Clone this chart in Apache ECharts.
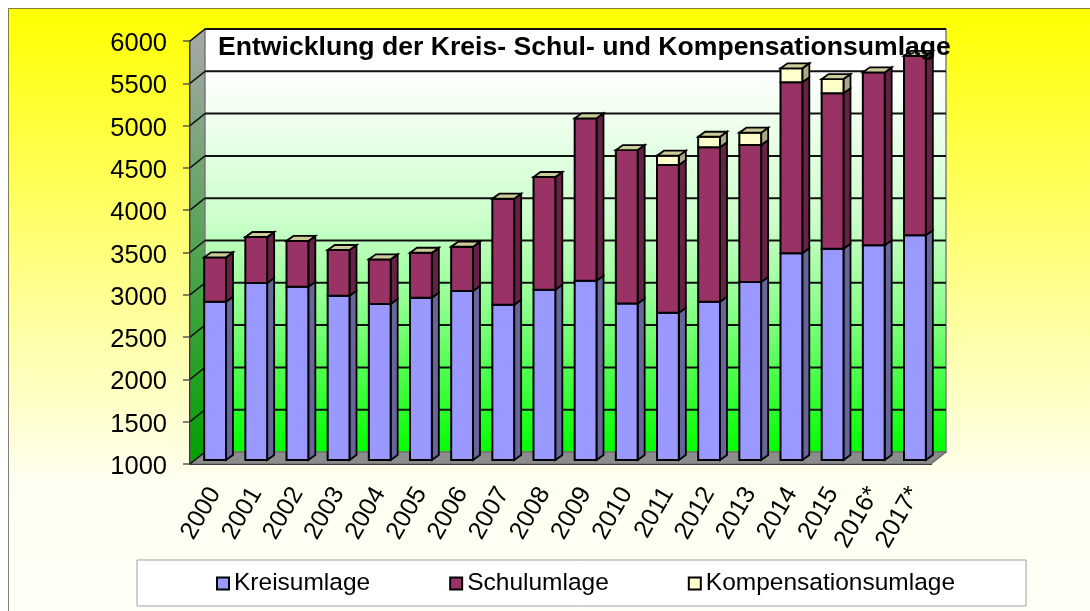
<!DOCTYPE html>
<html>
<head>
<meta charset="utf-8">
<script src="https://cdn.jsdelivr.net/npm/echarts@6/dist/echarts.min.js"></script>
<style>
  html, body { margin: 0; padding: 0; background: #fff; overflow: hidden; }
  #chart { width: 1090px; height: 611px; }
</style>
</head>
<body>
<div id="chart"></div>
<script>
const years = ['2000', '2001', '2002', '2003', '2004', '2005', '2006', '2007', '2008',
  '2009', '2010', '2011', '2012', '2013', '2014', '2015', '2016*', '2017*'];
const kreisumlage = [2871, 3092, 3048, 2942, 2844, 2918, 2998, 2836, 3013,
  3119, 2850, 2741, 2871, 3104, 3443, 3498, 3538, 3656];
const schulumlage = [525, 544, 541, 540, 528, 532, 523, 1253, 1332,
  1920, 1814, 1746, 1825, 1619, 2021, 1836, 2044, 2122];
const kompensationsumlage = [0, 0, 0, 0, 0, 0, 0, 0, 0,
  0, 0, 110, 125, 146, 166, 169, 0, 0];
const gridValues = [1500, 2000, 2500, 3000, 3500, 4000, 4500, 5000, 5500, 6000];

const AXIS_MIN = 1000;
const FONT = '"Liberation Sans", Arial, sans-serif';
// 3d look: wall sits behind the axis plane, bars sit part way in
const WALL_DX = 15, WALL_DY = -12;
const BAR_DX = 4.5, BAR_DY = -4;
const SIDE_DX = 7, SIDE_DY = -5;

const myChart = echarts.init(document.getElementById('chart'), null, { renderer: 'canvas' });

function poly(points, fill, stroke, lineWidth) {
  return {
    type: 'polygon',
    shape: { points },
    style: { fill, stroke: stroke || '#000', lineWidth: lineWidth === undefined ? 1.8 : lineWidth }
  };
}

function renderWalls(params, api) {
  const c = params.coordSys;
  const x0 = c.x, x1 = c.x + c.width, yTop = c.y, yBot = c.y + c.height;
  const backFill = new echarts.graphic.LinearGradient(0, 0, 0, 1, [
    { offset: 0, color: '#ffffff' },
    { offset: 0.1, color: '#ffffff' },
    { offset: 0.45, color: '#ccffcc' },
    { offset: 0.65, color: '#90ff90' },
    { offset: 1, color: '#00ff00' }
  ]);
  const sideFill = new echarts.graphic.LinearGradient(0, 0, 0, 1, [
    { offset: 0, color: '#a8a8a8' },
    { offset: 1, color: '#00a000' }
  ]);
  const children = [
    // left wall
    poly([[x0, yTop], [x0 + WALL_DX, yTop + WALL_DY], [x0 + WALL_DX, yBot + WALL_DY], [x0, yBot]],
      sideFill, '#555', 1.2),
    // back wall
    {
      type: 'rect',
      shape: { x: x0 + WALL_DX, y: yTop + WALL_DY, width: c.width, height: c.height },
      style: { fill: backFill, stroke: '#808080', lineWidth: 1.5 }
    },
    // floor
    poly([[x0, yBot], [x1, yBot], [x1 + WALL_DX, yBot + WALL_DY], [x0 + WALL_DX, yBot + WALL_DY]],
      '#8c8c8c', '#666', 1.2),
    {
      type: 'line',
      shape: { x1: x0 + WALL_DX, y1: yTop + WALL_DY, x2: x1 + WALL_DX, y2: yTop + WALL_DY },
      style: { stroke: '#111', lineWidth: 2 }
    },
    {
      type: 'line',
      shape: { x1: x0, y1: yBot, x2: x0 + WALL_DX, y2: yBot + WALL_DY },
      style: { stroke: '#111', lineWidth: 1.5 }
    }
  ];
  gridValues.forEach(function (v) {
    const y = api.coord([0, v])[1];
    if (v < 6000) {
      children.push({
        type: 'line',
        shape: { x1: x0 + WALL_DX, y1: y + WALL_DY, x2: x1 + WALL_DX, y2: y + WALL_DY },
        style: { stroke: '#111', lineWidth: 2 }
      });
    }
    children.push({
      type: 'line',
      shape: { x1: x0, y1: y, x2: x0 + WALL_DX, y2: y + WALL_DY },
      style: { stroke: '#111', lineWidth: 1.5 }
    });
  });
  return { type: 'group', children };
}

function barRenderer(frontColor, sideColor, topColor) {
  return function (params, api) {
    const idx = api.value(0);
    const lo = api.coord([idx, api.value(1)]);
    const hi = api.coord([idx, api.value(2)]);
    const w = api.size([1, 0])[0] * 0.53;
    const l = lo[0] - w / 2 + BAR_DX, r = l + w;
    const b = lo[1] + BAR_DY, t = hi[1] + BAR_DY;
    const children = [
      poly([[r, b], [r + SIDE_DX, b + SIDE_DY], [r + SIDE_DX, t + SIDE_DY], [r, t]], sideColor),
      poly([[l, b], [r, b], [r, t], [l, t]], frontColor, '#000', 2)
    ];
    if (topColor) {
      children.push(poly([[l, t], [r, t], [r + SIDE_DX, t + SIDE_DY], [l + SIDE_DX, t + SIDE_DY]], topColor));
    }
    return { type: 'group', children };
  };
}

// stacked ranges for each year
const kreisData = years.map((y, i) => [i, AXIS_MIN, kreisumlage[i]]);
const schulData = years.map((y, i) => [i, kreisumlage[i], kreisumlage[i] + schulumlage[i]]);
const kompData = years.map((y, i) => [i, kreisumlage[i] + schulumlage[i],
  kreisumlage[i] + schulumlage[i] + kompensationsumlage[i]]);

const option = {
  animation: false,
  textStyle: { fontFamily: FONT },
  graphic: [{
    type: 'rect',
    z: -10,
    silent: true,
    shape: { x: 8.5, y: 8.5, width: 1100, height: 620 },
    style: {
      fill: new echarts.graphic.LinearGradient(0, 0, 0, 1, [
        { offset: 0, color: '#ffff00' },
        { offset: 0.76, color: '#fffff0' },
        { offset: 1, color: '#fffff8' }
      ]),
      stroke: 'rgba(0,0,0,0.5)',
      lineWidth: 1
    }
  }],
  title: {
    text: 'Entwicklung der Kreis- Schul- und Kompensationsumlage',
    left: 213,
    top: 29,
    textStyle: { fontFamily: FONT, fontSize: 26.6, fontWeight: 'bold', color: '#000' }
  },
  legend: {
    left: 137,
    top: 560,
    data: ['Kreisumlage', 'Schulumlage', 'Kompensationsumlage'],
    icon: 'rect',
    itemWidth: 12,
    itemHeight: 12,
    itemGap: 79,
    padding: [11, 71, 10, 79],
    backgroundColor: '#fff',
    borderColor: '#a0a0a0',
    borderWidth: 1,
    selectedMode: false,
    itemStyle: { borderColor: '#000', borderWidth: 2 },
    textStyle: { fontFamily: FONT, fontSize: 24.5, color: '#000', padding: [3, 0, 0, 0] }
  },
  grid: { left: 190, top: 41, width: 741, height: 423 },
  xAxis: {
    type: 'category',
    data: years,
    axisLine: { lineStyle: { color: '#111', width: 2 } },
    axisTick: { length: 7, lineStyle: { color: '#555', width: 1.5 } },
    axisLabel: {
      rotate: 60,
      interval: 0,
      margin: 33,
      padding: [0, -9, 0, 0],
      fontFamily: FONT,
      fontSize: 25,
      color: '#000'
    }
  },
  yAxis: {
    type: 'value',
    min: AXIS_MIN,
    max: 6000,
    interval: 500,
    splitLine: { show: false },
    axisLine: { show: true, lineStyle: { color: '#111', width: 2 } },
    axisTick: { show: true, length: 7, lineStyle: { color: '#555', width: 1.5 } },
    axisLabel: {
      margin: 23,
      verticalAlign: 'top',
      padding: [-10, 0, 0, 0],
      fontFamily: FONT,
      fontSize: 25.5,
      color: '#000',
      formatter: function (v) { return String(v); }
    }
  },
  series: [
    {
      name: 'walls', type: 'custom', silent: true, z: 1,
      data: [[0, AXIS_MIN, 6000]],
      encode: { x: 0, y: [1, 2] },
      renderItem: renderWalls
    },
    {
      name: 'Kreisumlage', type: 'custom', silent: true, z: 2,
      itemStyle: { color: '#9999ff' },
      data: kreisData,
      encode: { x: 0, y: [1, 2] },
      renderItem: barRenderer('#9999ff', '#666699')
    },
    {
      name: 'Schulumlage', type: 'custom', silent: true, z: 3,
      itemStyle: { color: '#993366' },
      data: schulData,
      encode: { x: 0, y: [1, 2] },
      renderItem: barRenderer('#993366', '#662244')
    },
    {
      name: 'Kompensationsumlage', type: 'custom', silent: true, z: 4,
      itemStyle: { color: '#ffffcc' },
      data: kompData,
      encode: { x: 0, y: [1, 2] },
      renderItem: barRenderer('#ffffcc', '#aaaa88', '#cccc99')
    }
  ]
};

option && myChart.setOption(option);

window.addEventListener('resize', function () {
  myChart.resize();
});
</script>
</body>
</html>
